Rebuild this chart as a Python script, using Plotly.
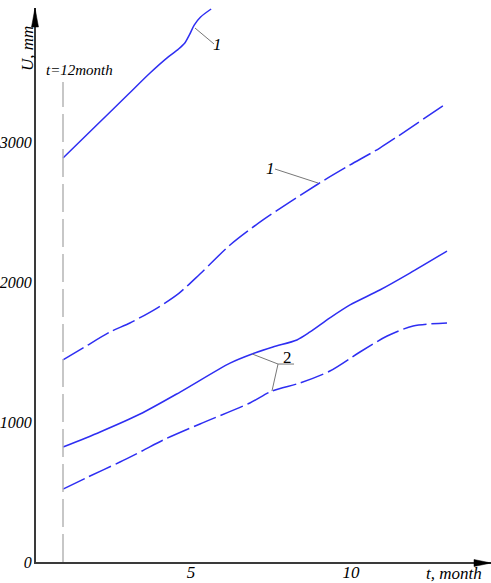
import plotly.graph_objects as go

# Displacement U (mm) versus time t (months)
t_sol1 = [1, 2, 3, 3.72, 4.3, 4.6, 4.8, 4.95, 5.1, 5.3, 5.63]
u_sol1 = [2886, 3109, 3332, 3493, 3610, 3662, 3705, 3765, 3835, 3893, 3950]

t_dash1 = [1, 1.63, 2.47, 3.09, 3.94, 4.63, 5.28, 6.22, 7.25, 8.97, 9.97, 10.9, 13]
u_dash1 = [1443, 1529, 1643, 1707, 1814, 1921, 2057, 2264, 2443, 2700, 2836, 2957, 3279]

t_sol2 = [1, 2.16, 3.41, 4.66, 6.22, 6.91, 7.56, 8.31, 8.72, 9.34, 9.97, 10.9, 11.84, 13]
u_sol2 = [821, 929, 1057, 1214, 1421, 1486, 1536, 1586, 1643, 1743, 1836, 1943, 2064, 2221]

t_dash2 = [1, 1.78, 2.78, 3.47, 4.13, 5.28, 6.84, 7.53, 8.41, 9.34, 10.28, 11.13, 11.94, 13]
u_dash2 = [521, 607, 714, 793, 871, 986, 1136, 1221, 1279, 1364, 1500, 1614, 1686, 1707]

y_ticks = [0, 1000, 2000, 3000]
y_tick_text = ["0", "1000", "2000", "3000"]
x_ticks = [5, 10]
x_tick_text = ["5", "10"]

t_mark = 1  # vertical reference line

W, H = 491, 583
ML, MT, MB = 36, 8, 21
PX_PER_MONTH = 32.0
PX_PER_MM = 0.14
T_ORIGIN_PX = 31.0

x_range = [(ML - T_ORIGIN_PX) / PX_PER_MONTH, (W - T_ORIGIN_PX) / PX_PER_MONTH]
y_range = [0, (H - MB - MT) / PX_PER_MM]

BLUE = "#2e2ef2"
SERIF = "Liberation Serif"
AXIS_COL = "#3a3a3a"
LEADER_COL = "#777777"


def px_paper(px, py):
    return (px - ML) / (W - ML), (H - MB - py) / (H - MB - MT)


def ital(s):
    return f"<i>{s}</i>"


fig = go.Figure()
for t, u, dash in [
    (t_sol1, u_sol1, "solid"),
    (t_dash1, u_dash1, "24px,5px"),
    (t_sol2, u_sol2, "solid"),
    (t_dash2, u_dash2, "24px,5px"),
]:
    fig.add_trace(go.Scatter(
        x=t, y=u, mode="lines",
        line=dict(color=BLUE, width=1.5, dash=dash, shape="spline", smoothing=0.8),
        hoverinfo="skip", showlegend=False, cliponaxis=False,
    ))

shapes = []
# vertical dashed marker line
shapes.append(dict(type="line", xref="x", yref="y", x0=t_mark, x1=t_mark,
                   y0=0, y1=3429, line=dict(color="#b5b5b5", width=1.5, dash="28px,7px")))

# leader lines
leaders = [
    ((5.125, 3814), (5.72, 3700)),
    ((7.625, 2807), (8.97, 2707)),
    ((6.91, 1486), (7.72, 1414)),
    ((7.72, 1414), (8.22, 1414)),
    ((7.72, 1414), (7.53, 1221)),
]
for (x0, y0), (x1, y1) in leaders:
    shapes.append(dict(type="line", xref="x", yref="y", x0=x0, y0=y0, x1=x1, y1=y1,
                       line=dict(color=LEADER_COL, width=1)))


# arrowheads on axes
def arrow_path(points):
    pts = [px_paper(*p) for p in points]
    return "M " + " L ".join(f"{a:.5f},{b:.5f}" for a, b in pts) + " Z"


shapes.append(dict(type="path", xref="paper", yref="paper",
                   path=arrow_path([(31.5, 27), (35.0, 8), (38.5, 27)]),
                   fillcolor="black", line=dict(color="black", width=0.5)))
shapes.append(dict(type="path", xref="paper", yref="paper",
                   path=arrow_path([(474, 559.5), (491, 563), (474, 566.5)]),
                   fillcolor="black", line=dict(color="black", width=0.5)))

annotations = [
    dict(text=ital("1"), x=5.84, y=3693, xref="x", yref="y", showarrow=False,
         xanchor="center", yanchor="middle",
         font=dict(family=SERIF, size=17, color="black")),
    dict(text=ital("1"), x=7.47, y=2814, xref="x", yref="y", showarrow=False,
         xanchor="center", yanchor="middle",
         font=dict(family=SERIF, size=17, color="black")),
    dict(text="2", x=8.03, y=1462, xref="x", yref="y", showarrow=False,
         xanchor="center", yanchor="middle",
         font=dict(family=SERIF, size=17, color="black")),
    dict(text=ital("t=12month"), x=1.53, y=3514, xref="x", yref="y", showarrow=False,
         xanchor="center", yanchor="middle",
         font=dict(family=SERIF, size=15, color="black")),
]
ux, uy = px_paper(27, 49)
annotations.append(dict(text=ital("U, mm"), x=ux, y=uy, xref="paper", yref="paper",
                        showarrow=False, textangle=-90, xanchor="center", yanchor="middle",
                        font=dict(family=SERIF, size=17, color="black")))
tx, ty = px_paper(454, 573)
annotations.append(dict(text=ital("t, month"), x=tx, y=ty, xref="paper", yref="paper",
                        showarrow=False, xanchor="center", yanchor="middle",
                        font=dict(family=SERIF, size=17, color="black")))

fig.update_layout(
    width=W, height=H,
    margin=dict(l=ML, r=0, t=MT, b=MB, pad=0, autoexpand=False),
    paper_bgcolor="white", plot_bgcolor="white",
    shapes=shapes, annotations=annotations,
    xaxis=dict(range=x_range, showgrid=False, zeroline=False, showline=True,
               linecolor=AXIS_COL, linewidth=2, ticks="", automargin=False,
               tickvals=x_ticks, ticktext=[ital(s) for s in x_tick_text],
               ticklabelstandoff=-6,
               tickfont=dict(family=SERIF, size=17, color="black")),
    yaxis=dict(range=y_range, showgrid=False, zeroline=False, showline=True,
               linecolor=AXIS_COL, linewidth=2, ticks="", automargin=False,
               tickvals=y_ticks, ticktext=[ital(s) for s in y_tick_text],
               ticklabelstandoff=-1,
               tickfont=dict(family=SERIF, size=16, color="black")),
)

fig.write_html("out.html")
